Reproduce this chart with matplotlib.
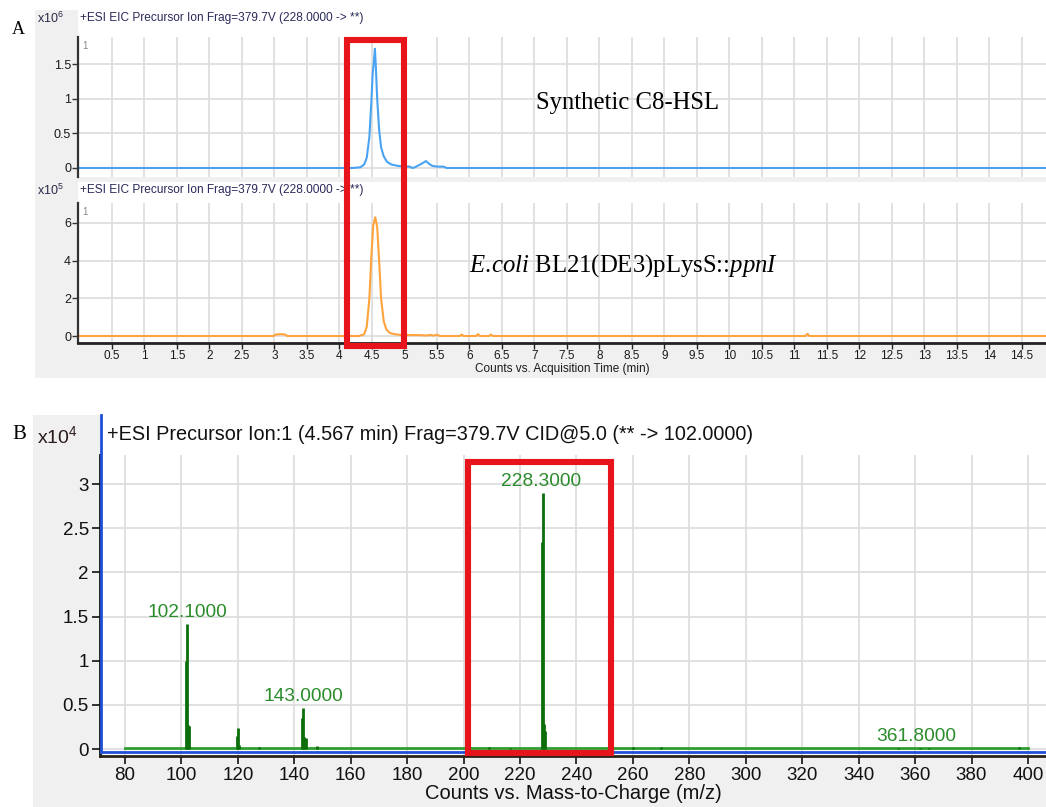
import numpy as np
import matplotlib
matplotlib.use('Agg')
import matplotlib.pyplot as plt
from matplotlib.patches import Rectangle

plt.rcParams['font.family'] = ['Liberation Sans', 'DejaVu Sans']
plt.rcParams['mathtext.fontset'] = 'custom'
plt.rcParams['mathtext.rm'] = 'Liberation Serif'
plt.rcParams['mathtext.it'] = 'Liberation Serif:italic'

# --- chromatogram, synthetic C8-HSL standard (x 1e6 counts) ---
t_std = [0, 4.2, 4.32, 4.38, 4.42, 4.46, 4.49, 4.51, 4.53, 4.545, 4.56, 4.58,
         4.61, 4.64, 4.68, 4.73, 4.8, 4.9, 5.0, 5.08, 5.12, 5.16, 5.22, 5.28,
         5.33, 5.38, 5.43, 5.5, 5.6, 5.65, 15]
i_std = [0, 0, 0.01, 0.05, 0.15, 0.45, 0.95, 1.35, 1.55, 1.72, 1.45, 1.0,
         0.55, 0.3, 0.17, 0.09, 0.05, 0.03, 0.02, 0.02, 0.0, 0.01, 0.04, 0.07,
         0.1, 0.06, 0.03, 0.02, 0.02, 0.0, 0]

# --- chromatogram, E.coli extract (x 1e5 counts) ---
t_ec = [0, 2.98, 3.02, 3.1, 3.16, 3.2, 4.3, 4.38, 4.42, 4.46, 4.49, 4.52, 4.55,
        4.58, 4.61, 4.64, 4.68, 4.72, 4.78, 4.85, 4.95, 5.1, 5.2, 5.35, 5.4,
        5.45, 5.5, 5.55, 5.85, 5.88, 5.91, 6.1, 6.13, 6.16, 6.3, 6.33, 6.36,
        11.17, 11.2, 11.23, 15]
i_ec = [0, 0, 0.08, 0.1, 0.08, 0, 0, 0.1, 0.5, 2.0, 4.2, 5.9, 6.3,
        5.8, 4.0, 2.0, 0.8, 0.35, 0.15, 0.1, 0.05, 0.05, 0.05, 0.03, 0.06,
        0.02, 0.07, 0, 0, 0.08, 0, 0, 0.1, 0, 0, 0.08, 0,
        0, 0.12, 0, 0]

# --- MS/MS spectrum (x 1e4 counts) ---
mz_peaks = [101.6, 101.9, 102.3, 102.6, 119.7, 120.0, 120.4, 127.5, 142.6, 143.0,
            143.5, 144.0, 148.0, 209.0, 216.5, 227.8, 228.2, 228.6, 229.0, 260.0,
            270.0, 354.0, 361.8, 365.0, 397.0]
int_peaks = [1.0, 1.42, 0.27, 0.26, 0.15, 0.24, 0.04, 0.02, 0.35, 0.47,
             0.14, 0.13, 0.03, 0.02, 0.01, 2.35, 2.9, 0.28, 0.2, 0.02,
             0.02, 0.01, 0.015, 0.01, 0.02]
mz_range = [80, 400]
label_mz = [102.0, 143.1, 227.6, 360.3]
label_int = [1.42, 0.47, 2.9, 0.015]
label_txt = ['102.1000', '143.0000', '228.3000', '361.8000']

hl_time = [4.12, 4.99]
hl_mz = [201.5, 252.2]
hl_int = [-0.045, 3.25]

W, H = 1046, 807
fig = plt.figure(figsize=(W / 100, H / 100), dpi=100)
fig.patch.set_facecolor('white')


def rect(l, t, r, b):
    return [l / W, 1 - b / H, (r - l) / W, (b - t) / H]


def bg(l, t, r, b, color):
    x, y, w, h = rect(l, t, r, b)
    fig.patches.append(Rectangle((x, y), w, h, transform=fig.transFigure,
                                 facecolor=color, edgecolor='none', zorder=-10))


GRAY = '#f0f0f0'
bg(35, 10, W, 378, GRAY)
bg(78, 10, W, 177, 'white')
bg(78, 182, W, 343, 'white')
bg(33, 415, W, H, GRAY)
bg(100, 415, W, 753, 'white')

grid_kw = dict(color='#dcdcdc', lw=1.2)

ax1 = fig.add_axes(rect(78, 37, W, 177))
ax2 = fig.add_axes(rect(78, 203, W, 343))
ax3 = fig.add_axes(rect(100, 455, W, 756))

ax1.plot(t_std, i_std, color='#4aa3f2', lw=1.5)
ax2.plot(t_ec, i_ec, color='#ffa33d', lw=1.5)

for ax in (ax1, ax2):
    ax.set_xlim(-0.023, 14.87)
    ax.set_xticks(np.arange(0.5, 15, 0.5))
    ax.grid(True, **grid_kw)
    ax.set_axisbelow(True)
    for s in ('top', 'right'):
        ax.spines[s].set_visible(False)
    ax.spines['left'].set_color('#333333')
    ax.spines['left'].set_linewidth(1.6)
    ax.tick_params(axis='y', labelsize=9, length=4, width=1, colors='#333333',
                   labelcolor='#1a1a1a', pad=1)
    ax.text(0.004, 0.97, '1', transform=ax.transAxes, fontsize=7,
            color='#888888', va='top', ha='left')

ax1.set_ylim(-0.13, 1.89)
ax1.set_yticks([0, 0.5, 1, 1.5])
ax1.set_yticklabels(['0', '0.5', '1', '1.5'])
ax1.spines['bottom'].set_visible(False)
ax1.tick_params(axis='x', length=0, labelbottom=False)

ax2.set_ylim(-0.37, 7.06)
ax2.set_yticks([0, 2, 4, 6])
ax2.spines['bottom'].set_color('#222222')
ax2.spines['bottom'].set_linewidth(2)
ax2.set_xticklabels([f'{v:g}' for v in np.arange(0.5, 15, 0.5)])
ax2.tick_params(axis='x', labelsize=8.5, length=4, width=1, colors='#222222',
                labelcolor='#1a1a1a', pad=1)
ax2.set_xlabel('Counts vs. Acquisition Time (min)', fontsize=8.5, labelpad=1,
               color='#1a1a1a')

# spectrum
ax3.plot(mz_range, [0.012, 0.012], color='#2f9e2f', lw=2, zorder=2)
ax3.vlines(mz_peaks, 0, int_peaks, color='#0b6e0b', lw=2, zorder=3)
for x, y, s in zip(label_mz, label_int, label_txt):
    ax3.annotate(s, (x, y), xytext=(0, 2), textcoords='offset points',
                 ha='center', va='bottom', fontsize=13.8, color='#2b8c2b')
ax3.set_xlim(71.14, 406.4)
ax3.set_ylim(-0.079, 3.33)
ax3.set_xticks(np.arange(80, 401, 20))
ax3.set_yticks([0, 0.5, 1, 1.5, 2, 2.5, 3])
ax3.set_yticklabels(['0', '0.5', '1', '1.5', '2', '2.5', '3'])
ax3.grid(True, **grid_kw)
ax3.set_axisbelow(True)
for s in ('top', 'right'):
    ax3.spines[s].set_visible(False)
ax3.spines['left'].set_color('#111111')
ax3.spines['left'].set_linewidth(2)
ax3.spines['bottom'].set_color('#2a2218')
ax3.spines['bottom'].set_linewidth(2)
ax3.axhline(-0.035, color='#1f4fd6', lw=2, zorder=4)
ax3.tick_params(axis='both', labelsize=13.5, length=6, width=1.2, colors='#111111',
                labelcolor='#111111', pad=2)
ax3.set_xlabel('Counts vs. Mass-to-Charge (m/z)', fontsize=14.5, labelpad=0,
               color='#111111')
# blue cursor line on the left of the spectrum
fig.add_artist(plt.Line2D([101 / W, 101 / W], [1 - 415 / H, 1 - 752 / H],
                          color='#1f4fd6', lw=2, transform=fig.transFigure))

# titles and panel letters
fig.text(12 / W, 1 - 30 / H, 'A', fontsize=13, family='Liberation Serif', va='center')
fig.text(12 / W, 1 - 435 / H, 'B', fontsize=15, family='Liberation Serif', va='center')
plt.rcParams['mathtext.default'] = 'regular'
fig.text(37 / W, 1 - 18 / H, r'x10$^{6}$', fontsize=9, va='center', color='#2a2a4a')
fig.text(37 / W, 1 - 190 / H, r'x10$^{5}$', fontsize=9, va='center', color='#2a2a4a')
fig.text(37 / W, 1 - 436 / H, r'x10$^{4}$', fontsize=14, va='center', color='#2a1a1a')
ttl_a = '+ESI EIC Precursor Ion Frag=379.7V (228.0000 -> **)'
fig.text(80 / W, 1 - 18 / H, ttl_a, fontsize=8.6, va='center', color='#2a2a5a')
fig.text(80 / W, 1 - 190 / H, ttl_a, fontsize=8.6, va='center', color='#2a2a5a')
fig.text(107 / W, 1 - 434 / H,
         '+ESI Precursor Ion:1 (4.567 min) Frag=379.7V CID@5.0 (** -> 102.0000)',
         fontsize=14.3, va='center', color='#111111')

ax1.text(0.473, 0.53, 'Synthetic C8-HSL', transform=ax1.transAxes, fontsize=17.8,
         family='Liberation Serif', va='center', ha='left')
ax2.text(0.404, 0.55, r'$\mathit{E.\!coli}$ BL21(DE3)pLysS::$\mathit{ppnI}$',
         transform=ax2.transAxes, fontsize=17.8, family='Liberation Serif',
         va='center', ha='left')

# red highlight boxes
to_fig = fig.transFigure.inverted()
xa0 = to_fig.transform(ax2.transData.transform((hl_time[0], 0)))[0]
xa1 = to_fig.transform(ax2.transData.transform((hl_time[1], 0)))[0]
ya0, ya1 = 1 - 346 / H, 1 - 40 / H
fig.patches.append(Rectangle((xa0, ya0), xa1 - xa0, ya1 - ya0, transform=fig.transFigure,
                             fill=False, edgecolor='#e8141c', lw=4.4, zorder=20))
ax3.add_patch(Rectangle((hl_mz[0], hl_int[0]), hl_mz[1] - hl_mz[0], hl_int[1] - hl_int[0],
                        fill=False, edgecolor='#e8141c', lw=4.4, zorder=20, clip_on=False))

fig.savefig('out.png', dpi=100)
